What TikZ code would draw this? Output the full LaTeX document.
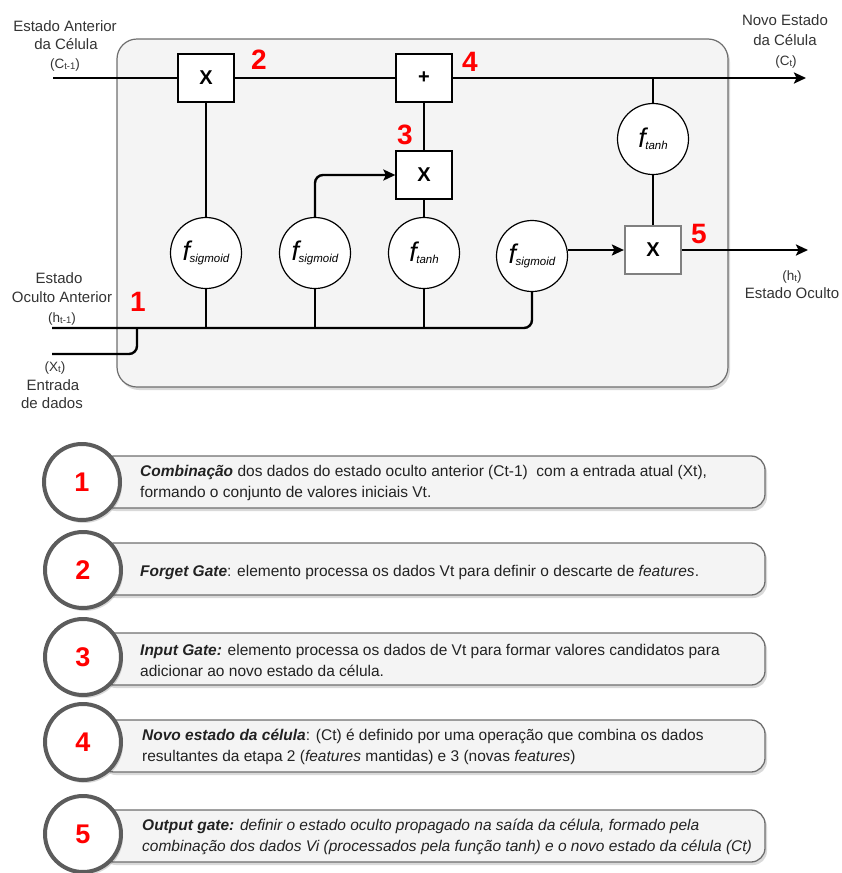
\documentclass[tikz,border=0pt]{standalone}
\usepackage{fontspec}
\setmainfont{Liberation Sans}
\usetikzlibrary{arrows.meta,shadows}

\definecolor{cellfill}{HTML}{F4F4F4}
\definecolor{celledge}{HTML}{6E6E6E}
\definecolor{labeltext}{HTML}{333333}
\definecolor{stepred}{HTML}{FF0000}
\definecolor{ringgray}{HTML}{5C5C5C}
\definecolor{bodytext}{HTML}{222222}

% small lowered index, as in C_{t-1}
\newcommand\lowsub[1]{\raisebox{-1.5pt}{\fontsize{9.5}{10}\selectfont #1}}
% activation function symbol: italic f with an italic index
\newcommand\actlabel[1]{{\fontsize{27}{27}\selectfont\itshape f}\kern-0.5pt\raisebox{-2.5pt}{\fontsize{11.5}{12}\selectfont\itshape #1}}

\begin{document}
\begin{tikzpicture}[x=1pt,y=-1pt,
  wire/.style={line width=2.4pt},
  flow/.style={wire, -{Stealth[length=12pt,width=11pt,inset=2.5pt]}},
  opbox/.style={draw, line width=1.3pt, fill=white, minimum width=56pt, minimum height=48pt,
    inner sep=0pt, font=\fontsize{20}{20}\selectfont\bfseries},
  actnode/.style={circle, draw, line width=1.2pt, fill=white, minimum size=71pt, inner sep=0pt},
  stepnum/.style={text=stepred, font=\fontsize{28}{28}\selectfont\bfseries, inner sep=0pt},
  sidelabel/.style={text=labeltext, anchor=base, inner sep=0pt, font=\fontsize{15}{17}\selectfont},
  parlabel/.style={sidelabel, font=\fontsize{13.5}{15}\selectfont},
  softshadow/.style={drop shadow={shadow xshift=2pt, shadow yshift=-3pt, opacity=0.25, fill=black!60}},
  notebox/.style={draw=celledge, line width=1.3pt, fill=cellfill, rounded corners=14pt,
    minimum width=665pt, minimum height=52pt, softshadow},
  notering/.style={circle, draw=ringgray, line width=4pt, fill=white, minimum size=76pt,
    inner sep=0pt, text=stepred, font=\fontsize{27}{27}\selectfont\bfseries, softshadow},
  notetext/.style={anchor=west, align=left, text=bodytext, inner sep=0pt,
    font=\fontsize{15.5}{21}\selectfont},
]
\useasboundingbox (0,0) rectangle (841,873);

% ---------------- LSTM cell ----------------
\node[draw=celledge, line width=1.2pt, fill=cellfill, rounded corners=20pt,
  minimum width=611pt, minimum height=348pt, softshadow] (cell) at (422.5,213) {};

% operations
\node[opbox] (forget) at (206,78) {X};
\node[opbox] (update) at (424,78) {+};
\node[opbox] (input) at (424,175) {X};
\node[opbox, draw=black!50, line width=2.2pt] (output) at (653,250) {X};

% activation functions
\node[actnode] (sig1) at (206,253) {\actlabel{sigmoid}};
\node[actnode] (sig2) at (315,253) {\actlabel{sigmoid}};
\node[actnode] (tanhin) at (424,253) {\actlabel{tanh}};
\node[actnode] (sig3) at (532,256) {\actlabel{sigmoid}};
\node[actnode] (tanhout) at (653,139) {\actlabel{tanh}};

% free ends of the connectors
\coordinate (cin) at (53,78);
\coordinate (cout) at (806,78);
\coordinate (ctap) at (653,78);
\coordinate (hin) at (52,328);
\coordinate (xin) at (52,354);
\coordinate (xjoin) at (137,328);
\coordinate (hout) at (808,250);

% cell state line
\draw[wire] (cin) -- (forget);
\draw[wire] (forget) -- (update);
\draw[flow] (update) -- (cout);
\draw[wire] (ctap) -- (tanhout);
\draw[wire] (tanhout) -- (output);

% gate connections
\draw[wire] (sig1) -- (forget);
\draw[wire] (tanhin) -- (input);
\draw[wire] (input) -- (update);
\draw[flow, rounded corners=8pt] (sig2.north) |- (input.west);
\draw[flow] (output.west -| sig3.east) -- (output.west);
\draw[flow] (output.east) -- (hout);

% hidden state and input bus
\draw[wire, rounded corners=8pt] (hin) -| (sig3.south);
\draw[wire] (sig1.south) -- (sig1.south |- hin);
\draw[wire] (sig2.south) -- (sig2.south |- hin);
\draw[wire] (tanhin.south) -- (tanhin.south |- hin);
\draw[wire, rounded corners=8pt] (xin) -| (xjoin);

% step numbers
\node[stepnum] (n1) at (138,302) {1};
\node[stepnum] (n2) at (259,60) {2};
\node[stepnum] (n3) at (405,135) {3};
\node[stepnum] (n4) at (470,62) {4};
\node[stepnum] (n5) at (699,234) {5};

% outside labels
\node[sidelabel] (cprevA) at (65,31) {Estado Anterior};
\node[sidelabel] (cprevB) at (66,49) {da Célula};
\node[parlabel] (cprevC) at (65,68) {(C\lowsub{t-1})};
\node[sidelabel] (cnextA) at (785,25) {Novo Estado};
\node[sidelabel] (cnextB) at (785,45) {da Célula};
\node[parlabel] (cnextC) at (786,65) {(C\lowsub{t})};
\node[sidelabel] (hprevA) at (59,283) {Estado};
\node[sidelabel] (hprevB) at (62,302) {Oculto Anterior};
\node[parlabel] (hprevC) at (62,322) {(h\lowsub{t-1})};
\node[parlabel] (xinA) at (55,371) {(X\lowsub{t})};
\node[sidelabel] (xinB) at (53,390) {Entrada};
\node[sidelabel] (xinC) at (52,408) {de dados};
\node[parlabel] (houtA) at (792,280) {(h\lowsub{t})};
\node[sidelabel] (houtB) at (792,298) {Estado Oculto};

% ---------------- legend ----------------
\node[notebox] (box1) at (432.5,482) {};
\node[notering] (ring1) at (82,482) {1};
\node[notetext] (text1) at (140,483) {\textbf{\textit{Combinação}} dos dados do estado oculto anterior (Ct-1)\ \ com a entrada atual (Xt),\\formando o conjunto de valores iniciais Vt.};

\node[notebox] (box2) at (432.5,569) {};
\node[notering] (ring2) at (83,570) {2};
\node[notetext] (text2) at (140,572) {\textbf{\textit{Forget Gate}}: elemento processa os dados Vt para definir o descarte de \textit{features}.};

\node[notebox] (box3) at (432.5,659) {};
\node[notering] (ring3) at (83,657) {3};
\node[notetext] (text3) at (140,660) {\textbf{\textit{Input Gate:}} elemento processa os dados de Vt para formar valores candidatos para\\adicionar ao novo estado da célula.};

\node[notebox] (box4) at (432.5,746) {};
\node[notering] (ring4) at (83,742) {4};
\node[notetext] (text4) at (142,747) {\textbf{\textit{Novo estado da célula}}: (Ct) é definido por uma operação que combina os dados\\resultantes da etapa 2 (\textit{features} mantidas) e 3 (novas \textit{features})};

\node[notebox] (box5) at (432.5,836) {};
\node[notering] (ring5) at (83,834) {5};
\node[notetext] (text5) at (142,837) {\textbf{\textit{Output gate:}} \textit{definir o estado oculto propagado na saída da célula, formado pela}\\\textit{combinação dos dados Vi (processados pela função tanh) e o novo estado da célula (Ct)}};
\end{tikzpicture}
\end{document}
